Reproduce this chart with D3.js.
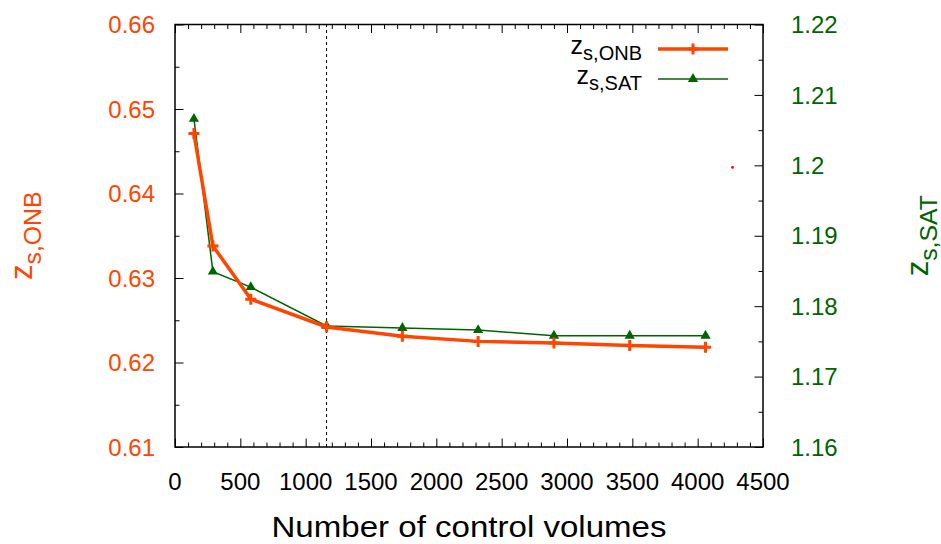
<!DOCTYPE html>
<html>
<head>
<meta charset="utf-8">
<script src="https://cdn.jsdelivr.net/npm/d3@7"></script>
<style>
  body { margin: 0; background: #fff; }
  text { font-family: "Liberation Sans", Arial, sans-serif; }
</style>
</head>
<body>
<div id="plot"></div>
<script>
// data ---------------------------------------------------------------------------------
var volumes = [145, 290, 580, 1160, 1740, 2320, 2900, 3480, 4060];
var zONB = [0.6471, 0.6338, 0.6275, 0.6242, 0.6231, 0.6225, 0.6223, 0.6220, 0.6218];
var zSAT = [1.2066, 1.1849, 1.1827, 1.1772, 1.1769, 1.1766, 1.1758, 1.1758, 1.1758];
var markX = 1160;            // dashed vertical line
var strayPoint = [4267, 1.1997]; // lone red dot (right axis)

var xTicks = [0, 500, 1000, 1500, 2000, 2500, 3000, 3500, 4000, 4500];
var yTicks = [0.61, 0.62, 0.63, 0.64, 0.65, 0.66];
var y2Ticks = [1.16, 1.17, 1.18, 1.19, 1.2, 1.21, 1.22];

var orange = "#ff4500",
    green = "#006400";

var width = 941, height = 544;
var margin = {top: 24.5, right: 178, bottom: 97, left: 175};

var svg = d3.select("#plot").append("svg")
    .attr("width", width)
    .attr("height", height);

var x = d3.scaleLinear().domain([0, 4500]).range([margin.left, width - margin.right]);
var y = d3.scaleLinear().domain([0.61, 0.66]).range([height - margin.bottom, margin.top]);
var y2 = d3.scaleLinear().domain([1.16, 1.22]).range([height - margin.bottom, margin.top]);

var x0 = x.range()[0], x1 = x.range()[1], yb = y.range()[0], yt = y.range()[1];

// ticks (inward, gnuplot style) -------------------------------------------------------
var minorX = d3.range(0, 4501, 100).filter(function(d) { return d % 500 != 0; });
var minorY = d3.range(0, 5).map(function(i) { return 0.615 + i * 0.01; });
var minorY2 = d3.range(0, 6).map(function(i) { return 1.165 + i * 0.01; });

function tickGroup(axis, tr) {
  var g = svg.append("g").attr("transform", tr).call(axis);
  g.select(".domain").remove();
  g.selectAll("line").attr("stroke", "#000").attr("stroke-width", 1);
  return g;
}

tickGroup(d3.axisBottom(x).tickValues(xTicks).tickSize(-8.5).tickFormat(""), "translate(0," + yb + ")");
tickGroup(d3.axisBottom(x).tickValues(minorX).tickSize(-4.5).tickFormat(""), "translate(0," + yb + ")");
tickGroup(d3.axisTop(x).tickValues(xTicks).tickSize(-8.5).tickFormat(""), "translate(0," + yt + ")");
tickGroup(d3.axisTop(x).tickValues(minorX).tickSize(-4.5).tickFormat(""), "translate(0," + yt + ")");
tickGroup(d3.axisLeft(y).tickValues(yTicks).tickSize(-8.5).tickFormat(""), "translate(" + x0 + ",0)");
tickGroup(d3.axisLeft(y).tickValues(minorY).tickSize(-4.5).tickFormat(""), "translate(" + x0 + ",0)");
tickGroup(d3.axisRight(y2).tickValues(y2Ticks).tickSize(-8.5).tickFormat(""), "translate(" + x1 + ",0)");
tickGroup(d3.axisRight(y2).tickValues(minorY2).tickSize(-4.5).tickFormat(""), "translate(" + x1 + ",0)");

// tick labels
svg.append("g").selectAll("text")
  .data(xTicks).enter().append("text")
    .attr("x", x)
    .attr("y", yb + 43)
    .attr("text-anchor", "middle")
    .style("font-size", "24px")
    .text(function(d) { return d; });

svg.append("g").selectAll("text")
  .data(yTicks).enter().append("text")
    .attr("x", x0 - 20)
    .attr("y", y)
    .attr("dy", "0.36em")
    .attr("text-anchor", "end")
    .attr("fill", orange)
    .style("font-size", "24px")
    .text(function(d) { return d3.format(".2f")(d); });

svg.append("g").selectAll("text")
  .data(y2Ticks).enter().append("text")
    .attr("x", x1 + 28)
    .attr("y", y2)
    .attr("dy", "0.36em")
    .attr("fill", green)
    .style("font-size", "24px")
    .text(function(d) { return d == 1.2 ? "1.2" : d3.format(".2f")(d); });

// axis titles --------------------------------------------------------------------------
svg.append("text")
    .attr("x", (x0 + x1) / 2)
    .attr("y", 537)
    .attr("text-anchor", "middle")
    .attr("textLength", 395)
    .attr("lengthAdjust", "spacingAndGlyphs")
    .style("font-size", "29px")
    .text("Number of control volumes");

function subLabel(sel, main, sub, size, shift) {
  sel.append("tspan").text(main);
  sel.append("tspan").attr("dy", shift).style("font-size", (size * 0.8) + "px").text(sub);
}

var yl = svg.append("text")
    .attr("transform", "translate(32," + ((yt + yb) / 2) + ") rotate(-90)")
    .attr("text-anchor", "middle")
    .attr("fill", orange)
    .style("font-size", "31px");
subLabel(yl, "z", "s,ONB", 31, 9);

var y2l = svg.append("text")
    .attr("transform", "translate(928," + ((yt + yb) / 2) + ") rotate(-90)")
    .attr("text-anchor", "middle")
    .attr("fill", green)
    .style("font-size", "31px");
subLabel(y2l, "z", "s,SAT", 31, 9);

// dashed marker line
svg.append("line")
    .attr("x1", x(markX)).attr("x2", x(markX))
    .attr("y1", yb).attr("y2", yt)
    .attr("stroke", "#000")
    .attr("stroke-width", 1)
    .attr("stroke-dasharray", "3,3");

// series -------------------------------------------------------------------------------
var onb = volumes.map(function(v, i) { return {x: v, y: zONB[i]}; });
var sat = volumes.map(function(v, i) { return {x: v, y: zSAT[i]}; });

var lineONB = d3.line().x(function(d) { return x(d.x); }).y(function(d) { return y(d.y); });
var lineSAT = d3.line().x(function(d) { return x(d.x); }).y(function(d) { return y2(d.y); });

var cross = function(cx, cy, s) {
  return "M" + (cx - s) + "," + cy + "H" + (cx + s) + "M" + cx + "," + (cy - s) + "V" + (cy + s);
};
var tri = d3.symbol().type(d3.symbolTriangle).size(45);

svg.append("path")
    .attr("d", lineSAT(sat))
    .attr("fill", "none")
    .attr("stroke", green)
    .attr("stroke-width", 1.5);

svg.append("g").selectAll("path")
  .data(sat).enter().append("path")
    .attr("transform", function(d) { return "translate(" + x(d.x) + "," + y2(d.y) + ")"; })
    .attr("d", tri)
    .attr("fill", green);

svg.append("path")
    .attr("d", lineONB(onb))
    .attr("fill", "none")
    .attr("stroke", orange)
    .attr("stroke-width", 3.5);

svg.append("g").selectAll("path")
  .data(onb).enter().append("path")
    .attr("d", function(d) { return cross(x(d.x), y(d.y), 5.5); })
    .attr("stroke", orange)
    .attr("stroke-width", 3);

svg.append("circle")
    .attr("cx", x(strayPoint[0]))
    .attr("cy", y2(strayPoint[1]))
    .attr("r", 1.4)
    .attr("fill", "#ff0000");

// frame
svg.append("rect")
    .attr("x", x0).attr("y", yt)
    .attr("width", x1 - x0).attr("height", yb - yt)
    .attr("fill", "none")
    .attr("stroke", "#000")
    .attr("stroke-width", 1.5);

// legend -------------------------------------------------------------------------------
var legend = [
  {name: "s,ONB", color: orange, w: 3.5, mark: "cross"},
  {name: "s,SAT", color: green, w: 1.5, mark: "tri"}
];

var lg = svg.append("g").selectAll("g")
  .data(legend).enter().append("g")
    .attr("transform", function(d, i) { return "translate(0," + (49 + i * 30) + ")"; });

lg.each(function(d) {
  var g = d3.select(this);
  var t = g.append("text")
      .attr("x", 642)
      .attr("y", 5)
      .attr("text-anchor", "end")
      .style("font-size", "25px");
  subLabel(t, "z", d.name, 25, 6);
  g.append("line")
      .attr("x1", 658).attr("x2", 728)
      .attr("stroke", d.color)
      .attr("stroke-width", d.w);
  if (d.mark == "cross") {
    g.append("path").attr("d", cross(693, 0, 5.5)).attr("stroke", d.color).attr("stroke-width", 3);
  } else {
    g.append("path").attr("transform", "translate(693,0)").attr("d", tri).attr("fill", d.color);
  }
});
</script>
</body>
</html>
